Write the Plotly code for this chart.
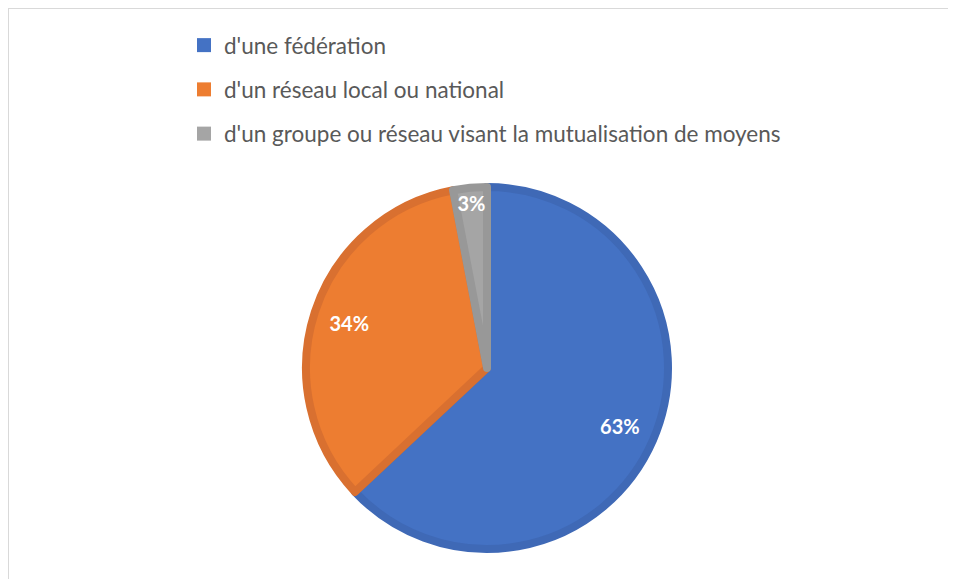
import plotly.graph_objects as go

# Data
labels = ["d'une fédération", "d'un réseau local ou national",
          "d'un groupe ou réseau visant la mutualisation de moyens"]
values = [63, 34, 3]
fill_colors = ["#4472C4", "#ED7D31", "#A5A5A5"]
edge_colors = ["#3F69B6", "#D97030", "#989898"]

# page body has an 8px margin, so the figure is a bit smaller
W, H = 948, 571

fig = go.Figure()

pie_domain = dict(x=[298 / W, 660 / W], y=[1 - 541 / H, 1 - 179 / H])

# Pie slices
fig.add_trace(go.Pie(
    labels=labels,
    values=values,
    sort=False,
    direction="clockwise",
    rotation=0,
    marker=dict(colors=fill_colors, line=dict(color=edge_colors, width=8)),
    textinfo="none",
    showlegend=False,
    hoverinfo="label+percent",
    domain=pie_domain,
))

# Same pie with a hole, transparent, only to push the labels outwards
fig.add_trace(go.Pie(
    labels=labels,
    values=values,
    sort=False,
    direction="clockwise",
    rotation=0,
    hole=0.6,
    marker=dict(colors=["rgba(0,0,0,0)"] * 3, line=dict(width=0)),
    texttemplate="%{percent:.0%}",
    textposition="inside",
    insidetextorientation="horizontal",
    textfont=dict(family="Lato", size=20, color="white", weight="bold"),
    showlegend=False,
    hoverinfo="skip",
    domain=pie_domain,
))

# Legend entries
for i, (lab, col) in enumerate(zip(labels, fill_colors)):
    fig.add_trace(go.Scatter(
        x=[None], y=[None], mode="markers", name=lab,
        marker=dict(symbol="square", size=14, color=col),
        legendgroup=str(i), showlegend=True,
    ))

fig.update_layout(
    width=W, height=H,
    margin=dict(l=0, r=0, t=0, b=0),
    paper_bgcolor="white",
    plot_bgcolor="white",
    uniformtext=dict(minsize=20, mode="show"),
    xaxis=dict(visible=False),
    yaxis=dict(visible=False),
    legend=dict(
        x=176 / W, y=1 - 16 / H, xanchor="left", yanchor="top",
        font=dict(family="Lato", size=22.5, color="#595959"),
        tracegroupgap=12,
        bgcolor="rgba(0,0,0,0)",
    ),
    shapes=[
        dict(type="line", xref="paper", yref="paper",
             x0=0, x1=1, y0=1, y1=1,
             line=dict(color="#D9D9D9", width=2)),
        dict(type="line", xref="paper", yref="paper",
             x0=0, x1=0, y0=0, y1=1,
             line=dict(color="#D9D9D9", width=2)),
    ],
)

fig.write_html("out.html")
